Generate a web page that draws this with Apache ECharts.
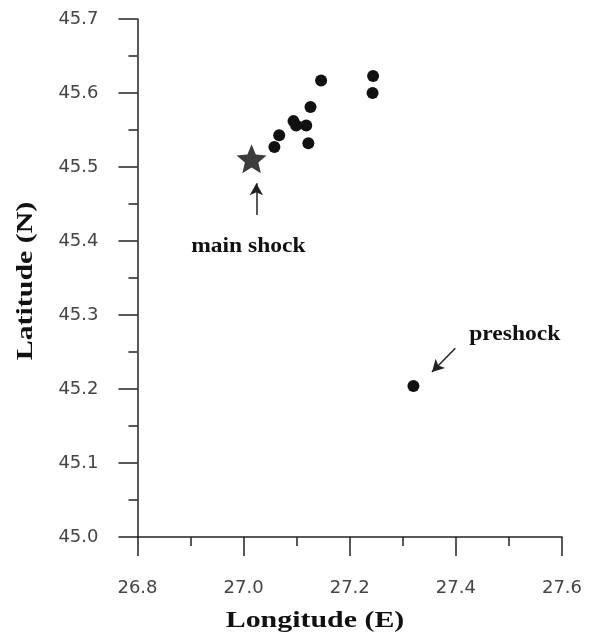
<!DOCTYPE html>
<html><head><meta charset="utf-8">
<script src="https://cdn.jsdelivr.net/npm/echarts@6/dist/echarts.min.js"></script>
<style>html,body{margin:0;padding:0;background:#fff}#c{width:597px;height:635px}</style>
</head><body><div id="c"></div>
<script>
// Aftershock epicentres (longitude E, latitude N)
const aftershockLon = [27.058, 27.067, 27.094, 27.099, 27.118, 27.122, 27.126, 27.146, 27.244, 27.243];
const aftershockLat = [45.527, 45.543, 45.562, 45.556, 45.556, 45.532, 45.581, 45.617, 45.623, 45.600];
const preshock = [27.320, 45.204];
const mainShock = [27.015, 45.511];
const xTicks = [26.8, 27.0, 27.2, 27.4, 27.6];
const yTicks = [45.0, 45.1, 45.2, 45.3, 45.4, 45.5, 45.6, 45.7];
// annotation anchors in data units
const mainArrow = [[27.024, 45.435], [27.024, 45.478]];
const preArrow = [[27.399, 45.255], [27.355, 45.223]];
const mainLabel = {text: 'main shock', at: [27.009, 45.392]};
const preLabel = {text: 'preshock', at: [27.511, 45.273]};

function starPath() {
  const pts = [];
  for (let i = 0; i < 10; i++) {
    const r = i % 2 === 0 ? 1 : 0.45;
    const a = -Math.PI / 2 + i * Math.PI / 5;
    pts.push((r * Math.cos(a)).toFixed(4) + ',' + (r * Math.sin(a)).toFixed(4));
  }
  return 'path://M' + pts.join('L') + 'Z';
}

const axisColor = '#222';
const chart = echarts.init(document.getElementById('c'));
const dots = aftershockLon.map((x, i) => [x, aftershockLat[i]]).concat([preshock]);
chart.setOption({
  animation: false,
  grid: {left: 137.5, right: 35, top: 19, bottom: 98},
  xAxis: {
    type: 'value', min: xTicks[0], max: xTicks[xTicks.length - 1], interval: 0.2,
    axisLine: {show: true, onZero: false, lineStyle: {color: axisColor, width: 1.5}},
    axisTick: {show: true, length: 19, lineStyle: {color: axisColor, width: 1.5}},
    minorTick: {show: true, splitNumber: 2, length: 9, lineStyle: {color: axisColor, width: 1.5}},
    splitLine: {show: false},
    axisLabel: {margin: 42, fontFamily: 'DejaVu Sans', fontSize: 18, color: '#444',
      formatter: v => v.toFixed(1)}
  },
  yAxis: {
    type: 'value', min: yTicks[0], max: yTicks[yTicks.length - 1], interval: 0.1,
    axisLine: {show: true, onZero: false, lineStyle: {color: axisColor, width: 1.5}},
    axisTick: {show: true, length: 19, lineStyle: {color: axisColor, width: 1.5}},
    minorTick: {show: true, splitNumber: 2, length: 9, lineStyle: {color: axisColor, width: 1.5}},
    splitLine: {show: false},
    axisLabel: {margin: 39, fontFamily: 'DejaVu Sans', fontSize: 18, color: '#444',
      formatter: v => v.toFixed(1)}
  },
  series: [
    {
      type: 'scatter', data: dots, symbol: 'circle', symbolSize: 12,
      itemStyle: {color: '#111', opacity: 1}, silent: true,
      markLine: {
        silent: true, symbol: ['none', 'arrow'], symbolSize: [10, 12],
        lineStyle: {color: axisColor, width: 1.5, type: 'solid', opacity: 1},
        itemStyle: {color: axisColor},
        label: {show: false},
        data: [
          [{coord: mainArrow[0]}, {coord: mainArrow[1]}],
          [{coord: preArrow[0]}, {coord: preArrow[1]}]
        ]
      }
    },
    {
      type: 'scatter', data: [mainShock], symbol: starPath(), symbolSize: [30, 29],
      itemStyle: {color: '#3c3c3c', opacity: 1}, silent: true, z: 3
    }
  ]
});

function px(p) { return chart.convertToPixel({gridIndex: 0}, p); }
const boldSerif = 'bold 21px "Liberation Serif", "DejaVu Serif", serif';
const mp = px(mainLabel.at), pp = px(preLabel.at);
chart.setOption({
  graphic: [
    {type: 'text', x: mp[0], y: mp[1], scaleX: 1.12, silent: true,
      style: {text: mainLabel.text, font: boldSerif, fill: '#111', align: 'center', verticalAlign: 'middle'}},
    {type: 'text', x: pp[0], y: pp[1], scaleX: 1.12, silent: true,
      style: {text: preLabel.text, font: boldSerif, fill: '#111', align: 'center', verticalAlign: 'middle'}},
    {type: 'text', x: 315, y: 621, scaleX: 1.3, silent: true,
      style: {text: 'Longitude (E)', font: 'bold 23px "Liberation Serif", serif', fill: '#111', align: 'center', verticalAlign: 'middle'}},
    {type: 'text', x: 26, y: 281, rotation: Math.PI / 2, scaleX: 1.3, silent: true,
      style: {text: 'Latitude (N)', font: 'bold 23px "Liberation Serif", serif', fill: '#111', align: 'center', verticalAlign: 'middle'}}
  ]
});
</script></body></html>
